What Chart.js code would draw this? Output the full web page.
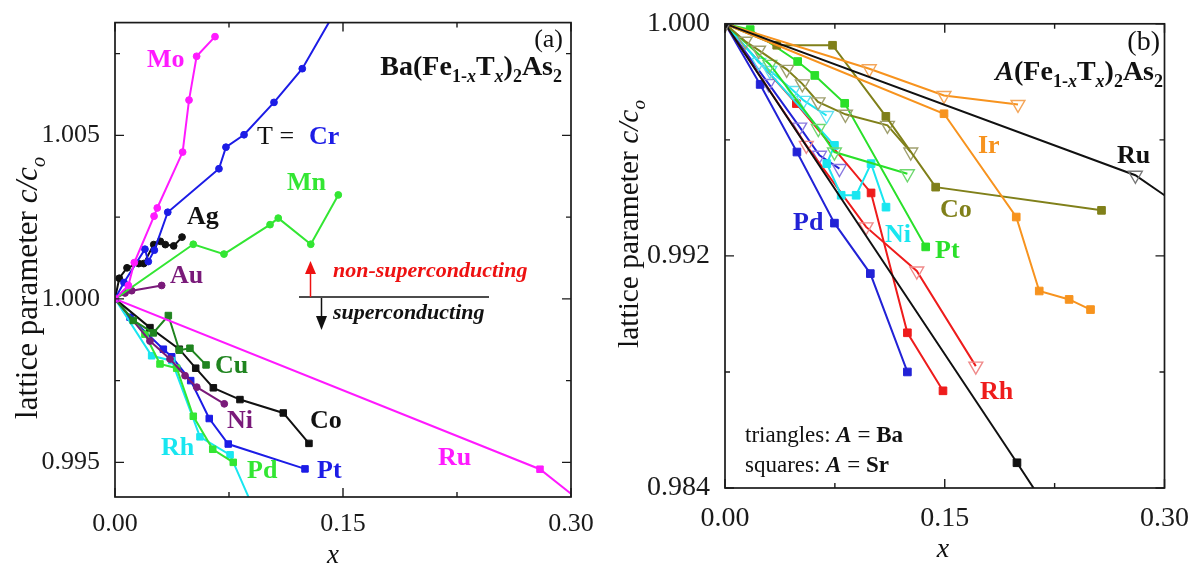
<!DOCTYPE html>
<html><head><meta charset="utf-8">
<script src="https://cdn.jsdelivr.net/npm/chart.js@4.4.0/dist/chart.umd.min.js"></script>
<style>
html,body{margin:0;padding:0;background:#fff;}
#wrap{position:relative;width:1195px;height:571px;overflow:hidden;background:#fff;}
canvas{position:absolute;left:0;top:0;}
</style></head><body>
<div id="wrap"><canvas id="ca" width="1195" height="571"></canvas><canvas id="cb" width="1195" height="571"></canvas></div>
<script>
// ---------- tick values ----------
const xTicks = [0, 0.15, 0.30];
const xMinor = [0.075, 0.225];
const yTicksA = [0.995, 1.000, 1.005];
const yMinorA = [0.9975, 1.0025, 1.0075];
const yTicksB = [0.984, 0.992, 1.000];
const yMinorB = [0.988, 0.996];

// ---------- panel (a): Ba(Fe1-xTx)2As2 ----------
const moX = [0, 0.0088, 0.0127, 0.0257, 0.0278, 0.0445, 0.0487, 0.0537, 0.0658];
const moY = [1, 1.00041, 1.00111, 1.00253, 1.00278, 1.00449, 1.00608, 1.00742, 1.00802];
const crX = [0, 0.0059, 0.0197, 0.0219, 0.0259, 0.0347, 0.0684, 0.0730, 0.0849, 0.1046, 0.1232, 0.145];
const crY = [1, 1.0005, 1.00152, 1.00114, 1.00149, 1.00265, 1.00398, 1.00464, 1.00502, 1.00601, 1.00704, 1.0088];
const mnX = [0, 0.0515, 0.0717, 0.1020, 0.1074, 0.1288, 0.1469];
const mnY = [1, 1.00167, 1.00137, 1.00227, 1.00247, 1.00167, 1.00318];
const agX = [0, 0.0028, 0.0079, 0.0156, 0.0189, 0.0255, 0.0298, 0.0331, 0.0386, 0.0441];
const agY = [1, 1.00063, 1.00095, 1.00108, 1.00108, 1.00166, 1.00176, 1.00166, 1.00162, 1.00189];
const auX = [0, 0.0066, 0.011, 0.0307];
const auY = [1, 1.00018, 1.00025, 1.00041];
const cuX = [0, 0.012, 0.0252, 0.0351, 0.0423, 0.0493, 0.0599];
const cuY = [1, 0.99934, 0.99896, 0.99949, 0.99843, 0.99849, 0.99798];
const coAX = [0, 0.023, 0.0423, 0.0531, 0.0647, 0.0822, 0.1107, 0.1276];
const coAY = [1, 0.99912, 0.99846, 0.99788, 0.99728, 0.99692, 0.99651, 0.99558];
const niAX = [0, 0.023, 0.0362, 0.0461, 0.0538, 0.0719];
const niAY = [1, 0.99871, 0.99816, 0.99765, 0.9973, 0.99679];
const ptAX = [0, 0.0099, 0.0318, 0.0373, 0.0498, 0.062, 0.0745, 0.125];
const ptAY = [1, 0.99944, 0.99846, 0.99823, 0.9975, 0.99634, 0.99556, 0.9948];
const pdAX = [0, 0.0197, 0.0296, 0.0406, 0.0515, 0.0643, 0.0778];
const pdAY = [1, 0.99892, 0.99801, 0.99788, 0.99641, 0.9954, 0.995];
const rhAX = [0, 0.0241, 0.0373, 0.0559, 0.0757, 0.09];
const rhAY = [1, 0.99826, 0.99811, 0.99578, 0.99523, 0.99371];
const ruAX = [0, 0.2796, 0.30];
const ruAY = [1, 0.99479, 0.99404];

// ---------- panel (b): A(Fe1-xTx)2As2, triangles A=Ba, squares A=Sr ----------
const ruBaX = [0, 0.2801, 0.30];
const ruBaY = [1, 0.99478, 0.99409];
const ruSrX = [0, 0.1993, 0.215];
const ruSrY = [1, 0.98487, 0.98366];
const irBaX = [0, 0.0985, 0.1495, 0.2];
const irBaY = [1, 0.99845, 0.99753, 0.99722];
const irSrX = [0, 0.1495, 0.1988, 0.2145, 0.2349, 0.2495];
const irSrY = [1, 0.9969, 0.99334, 0.99079, 0.9905, 0.99015];
const coSrX = [0, 0.0353, 0.0734, 0.1098, 0.1438, 0.257];
const coSrY = [1, 0.99926, 0.99926, 0.99681, 0.99437, 0.99357];
const coBaX = [0, 0.0138, 0.0229, 0.0421, 0.0528, 0.0635, 0.0822, 0.1109, 0.1268];
const coBaY = [1, 0.9994, 0.99909, 0.99843, 0.99793, 0.99731, 0.99688, 0.9965, 0.99558];
const ptSrX = [0, 0.0172, 0.0496, 0.0613, 0.0817, 0.137];
const ptSrY = [1, 0.9998, 0.9987, 0.99822, 0.99726, 0.99231];
const ptBaX = [0, 0.0306, 0.0637, 0.0747, 0.1245];
const ptBaY = [1, 0.9986, 0.99639, 0.99558, 0.99483];
const niBaX = [0, 0.0231, 0.0306, 0.0465, 0.0537, 0.0693];
const niBaY = [1, 0.99867, 0.99839, 0.9977, 0.99736, 0.99684];
const niSrX = [0, 0.0747, 0.0695, 0.0793, 0.0895, 0.0997, 0.1099];
const niSrY = [1, 0.99581, 0.99518, 0.99409, 0.99409, 0.99518, 0.99368];
const rhSrX = [0, 0.0487, 0.0997, 0.1245, 0.1488];
const rhSrY = [1, 0.99725, 0.99417, 0.98935, 0.98735];
const rhBaX = [0, 0.0555, 0.0963, 0.1309, 0.1712];
const rhBaY = [1, 0.99581, 0.993, 0.99148, 0.9882];
const pdSrX = [0, 0.024, 0.0491, 0.0747, 0.0992, 0.1245];
const pdSrY = [1, 0.99791, 0.99558, 0.99313, 0.99139, 0.988];
const pdBaX = [0, 0.0297, 0.051, 0.0645, 0.0781];
const pdBaY = [1, 0.99794, 0.99644, 0.99547, 0.99501];

// ---------- styles ----------
const C = {
  mag:'#ff1aff', blue:'#1c1ce6', green:'#33e633', black:'#111111', purple:'#7a1a7a',
  dkgreen:'#1f841f', cyan:'#19e6f0', orange:'#f7931e', olive:'#80801a', red:'#ee1c1c',
  bblue:'#2222d6', bgreen:'#2ae02a'
};
const FONT = "'Liberation Serif','Times New Roman',serif";

const seriesA = [
  {x:moX, y:moY, c:C.mag, p:'circle'},
  {x:crX, y:crY, c:C.blue, p:'circle', tail:true},
  {x:mnX, y:mnY, c:C.green, p:'circle'},
  {x:agX, y:agY, c:C.black, p:'circle'},
  {x:auX, y:auY, c:C.purple, p:'circle'},
  {x:ruAX, y:ruAY, c:C.mag, p:'rect', tail:true},
  {x:cuX, y:cuY, c:C.dkgreen, p:'rect'},
  {x:coAX, y:coAY, c:C.black, p:'rect'},
  {x:niAX, y:niAY, c:C.purple, p:'circle'},
  {x:pdAX, y:pdAY, c:C.green, p:'rect'},
  {x:rhAX, y:rhAY, c:C.cyan, p:'rect', tail:true},
  {x:ptAX, y:ptAY, c:C.blue, p:'rect'}
];
const seriesB = [
  {x:ruBaX, y:ruBaY, c:C.black, pc:'#777777', p:'tri', tail:true},
  {x:ruSrX, y:ruSrY, c:C.black, p:'sq', tail:true},
  {x:irBaX, y:irBaY, c:C.orange, pc:'#f4a65a', p:'tri'},
  {x:irSrX, y:irSrY, c:C.orange, p:'sq'},
  {x:coSrX, y:coSrY, c:C.olive, p:'sq'},
  {x:coBaX, y:coBaY, c:C.olive, pc:'#a0a070', p:'tri'},
  {x:ptSrX, y:ptSrY, c:C.bgreen, p:'sq'},
  {x:ptBaX, y:ptBaY, c:C.bgreen, pc:'#70d870', p:'tri'},
  {x:niBaX, y:niBaY, c:C.cyan, pc:'#60e0f0', p:'tri'},
  {x:niSrX, y:niSrY, c:C.cyan, p:'sq'},
  {x:rhSrX, y:rhSrY, c:C.red, p:'sq'},
  {x:rhBaX, y:rhBaY, c:C.red, pc:'#f08a8a', p:'tri'},
  {x:pdSrX, y:pdSrY, c:C.bblue, p:'sq'},
  {x:pdBaX, y:pdBaY, c:C.bblue, pc:'#8a7ae0', p:'tri'}
];

function toDataset(s) {
  const n = s.x.length;
  const data = s.x.map((v, i) => ({x: v, y: s.y[i]}));
  let style = 'circle', r = 3.4, bg = s.c, pb = s.c, rot = 0, bw = 1;
  if (s.p === 'rect') { style = 'rect'; r = 4.6; }
  if (s.p === 'sq') { style = 'rect'; r = 5.4; }
  if (s.p === 'tri') { style = 'triangle'; r = 8; bg = 'rgba(255,255,255,0)'; pb = s.pc; rot = 180; bw = 1.4; }
  return {
    data, showLine: true, borderColor: s.c, borderWidth: 2, backgroundColor: bg,
    pointStyle: style, pointRotation: rot, pointBorderColor: pb, pointBackgroundColor: bg,
    pointBorderWidth: bw,
    pointRadius: ctx => (s.tail && ctx.dataIndex === n - 1) ? 0 : r,
    pointHoverRadius: 0, tension: 0
  };
}

function fontOf(s) { return (s.i ? 'italic ' : '') + (s.w || 'normal') + ' ' + s.s + 'px ' + FONT; }
function drawRich(ctx, x, y, segs, align) {
  let w = 0;
  const m = segs.map(s => { ctx.font = fontOf(s); const ww = ctx.measureText(s.t).width; w += ww; return ww; });
  let cx = align === 'right' ? x - w : (align === 'center' ? x - w / 2 : x);
  segs.forEach((s, i) => { ctx.font = fontOf(s); ctx.fillStyle = s.c || '#111'; ctx.fillText(s.t, cx, y + (s.dy || 0)); cx += m[i]; });
  return w;
}
function axisTitle(ctx, cx, cy, len) {
  const base = 26;
  const mk = sz => [
    {t:'lattice parameter ', s:sz},
    {t:'c/c', s:sz, i:1},
    {t:'o', s:Math.round(sz*0.65), i:1, dy:Math.round(sz*0.25)}
  ];
  let w = 0; mk(base).forEach(s => { ctx.font = fontOf(s); w += ctx.measureText(s.t).width; });
  const sz = base * len / w;
  ctx.save(); ctx.translate(cx, cy); ctx.rotate(-Math.PI / 2);
  drawRich(ctx, 0, 0, mk(sz), 'center');
  ctx.restore();
}
function frameTicks(chart, xMaj, xMin, yMaj, yMin) {
  const {ctx, chartArea: a, scales: {x, y}} = chart;
  ctx.save(); ctx.strokeStyle = '#1a1a1a'; ctx.lineWidth = 1.7;
  ctx.strokeRect(a.left, a.top, a.right - a.left, a.bottom - a.top);
  ctx.lineWidth = 1.4;
  const tk = (vals, len) => {
    vals.forEach(v => {
      const px = x.getPixelForValue(v);
      ctx.beginPath(); ctx.moveTo(px, a.bottom); ctx.lineTo(px, a.bottom - len);
      ctx.moveTo(px, a.top); ctx.lineTo(px, a.top + len); ctx.stroke();
    });
  };
  const tky = (vals, len) => {
    vals.forEach(v => {
      const py = y.getPixelForValue(v);
      ctx.beginPath(); ctx.moveTo(a.left, py); ctx.lineTo(a.left + len, py);
      ctx.moveTo(a.right, py); ctx.lineTo(a.right - len, py); ctx.stroke();
    });
  };
  tk(xMaj, 9); tk(xMin, 5); tky(yMaj, 9); tky(yMin, 5);
  ctx.restore();
}

function makeChart(id, series, cfg) {
  return new Chart(document.getElementById(id), {
    type: 'scatter',
    data: {datasets: series.map(toDataset)},
    options: {
      responsive: false, animation: false, devicePixelRatio: 1,
      layout: {padding: cfg.pad},
      plugins: {legend: {display: false}, tooltip: {enabled: false}},
      events: [],
      scales: {
        x: {
          type: 'linear', min: 0, max: 0.30,
          grid: {display: false}, border: {display: false},
          afterBuildTicks: s => { s.ticks = xTicks.map(v => ({value: v})); },
          afterFit: s => { s.height = cfg.xH; },
          ticks: {font: {family: FONT, size: cfg.fs}, color: '#1a1a1a', padding: cfg.xPad,
                  maxRotation: 0, autoSkip: false, callback: v => Number(v).toFixed(2)}
        },
        y: {
          type: 'linear', min: cfg.yMin, max: cfg.yMax,
          grid: {display: false}, border: {display: false},
          afterBuildTicks: s => { s.ticks = cfg.yTicks.map(v => ({value: v})); },
          afterFit: s => { s.width = cfg.yW; },
          ticks: {font: {family: FONT, size: cfg.fs}, color: '#1a1a1a', padding: cfg.yPad,
                  autoSkip: false, callback: v => Number(v).toFixed(3)}
        }
      }
    },
    plugins: [{
      id: 'deco' + id,
      afterDraw: chart => {
        frameTicks(chart, xTicks, xMinor, cfg.yTicks, cfg.yMinor);
        const ctx = chart.ctx; ctx.save(); ctx.textBaseline = 'alphabetic'; ctx.textAlign = 'left';
        cfg.deco(ctx, chart);
        ctx.restore();
      }
    }]
  });
}

const labelsA = [
  ['Mo', C.mag, 147, 67], ['Cr', C.blue, 309, 144], ['Mn', C.green, 287, 190],
  ['Ag', C.black, 187, 224], ['Au', C.purple, 170, 283], ['Cu', C.dkgreen, 215, 373],
  ['Ni', C.purple, 227, 428], ['Co', C.black, 310, 428], ['Rh', C.cyan, 161, 455],
  ['Pd', C.green, 247, 478], ['Pt', C.blue, 317, 478], ['Ru', C.mag, 438, 465]
];
const labelsB = [
  ['Ru', C.black, 1117, 163], ['Ir', C.orange, 978, 153], ['Co', C.olive, 940, 217],
  ['Pt', C.bgreen, 935, 258], ['Ni', C.cyan, 885, 242], ['Pd', C.bblue, 793, 230],
  ['Rh', C.red, 980, 399]
];
function formula(ctx, x, y, first, firstItalic) {
  const B = 28, S = 18, D = 7;
  drawRich(ctx, x, y, [
    {t:first, s:B, w:'bold', i:firstItalic}, {t:'(Fe', s:B, w:'bold'},
    {t:'1-', s:S, w:'bold', dy:D}, {t:'x', s:S, w:'bold', i:1, dy:D},
    {t:'T', s:B, w:'bold'}, {t:'x', s:S, w:'bold', i:1, dy:D},
    {t:')', s:B, w:'bold'}, {t:'2', s:S, w:'bold', dy:D},
    {t:'As', s:B, w:'bold'}, {t:'2', s:S, w:'bold', dy:D}
  ], 'right');
}

makeChart('ca', seriesA, {
  pad: {left: 0, top: 18, right: 1195 - 571, bottom: 0},
  yW: 115, xH: 74, fs: 26, xPad: 4, yPad: 7,
  yMin: 0.99394, yMax: 1.00845, yTicks: yTicksA, yMinor: yMinorA,
  deco: (ctx) => {
    labelsA.forEach(l => drawRich(ctx, l[2], l[3], [{t:l[0], s:26, w:'bold', c:l[1]}], 'left'));
    drawRich(ctx, 257, 144, [{t:'T = ', s:26, c:'#111'}], 'left');
    drawRich(ctx, 563, 47, [{t:'(a)', s:26}], 'right');
    formula(ctx, 562, 75, 'Ba', 0);
    ctx.strokeStyle = '#111'; ctx.lineWidth = 1.5;
    ctx.beginPath(); ctx.moveTo(299, 297); ctx.lineTo(489, 297); ctx.stroke();
    ctx.strokeStyle = '#ee1111'; ctx.fillStyle = '#ee1111';
    ctx.beginPath(); ctx.moveTo(310.5, 297); ctx.lineTo(310.5, 272); ctx.stroke();
    ctx.beginPath(); ctx.moveTo(305, 274); ctx.lineTo(316, 274); ctx.lineTo(310.5, 261); ctx.closePath(); ctx.fill();
    ctx.strokeStyle = '#111'; ctx.fillStyle = '#111';
    ctx.beginPath(); ctx.moveTo(321.5, 298); ctx.lineTo(321.5, 318); ctx.stroke();
    ctx.beginPath(); ctx.moveTo(316, 316); ctx.lineTo(327, 316); ctx.lineTo(321.5, 330); ctx.closePath(); ctx.fill();
    drawRich(ctx, 333, 277, [{t:'non-superconducting', s:22, w:'bold', i:1, c:'#ee1111'}], 'left');
    drawRich(ctx, 333, 319, [{t:'superconducting', s:22, w:'bold', i:1, c:'#111'}], 'left');
    axisTitle(ctx, 37, 288, 262);
    drawRich(ctx, 333, 563, [{t:'x', s:27, i:1}], 'center');
  }
});

makeChart('cb', seriesB, {
  pad: {left: 600, top: 23, right: 1195 - 1167, bottom: 0},
  yW: 125, xH: 571 - 488, fs: 28, xPad: 6, yPad: 7,
  yMin: 0.984, yMax: 1.000, yTicks: yTicksB, yMinor: yMinorB,
  deco: (ctx) => {
    labelsB.forEach(l => drawRich(ctx, l[2], l[3], [{t:l[0], s:26, w:'bold', c:l[1]}], 'left'));
    drawRich(ctx, 1160, 50, [{t:'(b)', s:28}], 'right');
    formula(ctx, 1163, 80, 'A', 1);
    drawRich(ctx, 745, 442, [{t:'triangles: ', s:23}, {t:'A', s:23, w:'bold', i:1}, {t:' = ', s:23}, {t:'Ba', s:23, w:'bold'}], 'left');
    drawRich(ctx, 745, 472, [{t:'squares: ', s:23}, {t:'A', s:23, w:'bold', i:1}, {t:' = ', s:23}, {t:'Sr', s:23, w:'bold'}], 'left');
    axisTitle(ctx, 638, 224, 248);
    drawRich(ctx, 943, 557, [{t:'x', s:28, i:1}], 'center');
  }
});
</script>
</body></html>
